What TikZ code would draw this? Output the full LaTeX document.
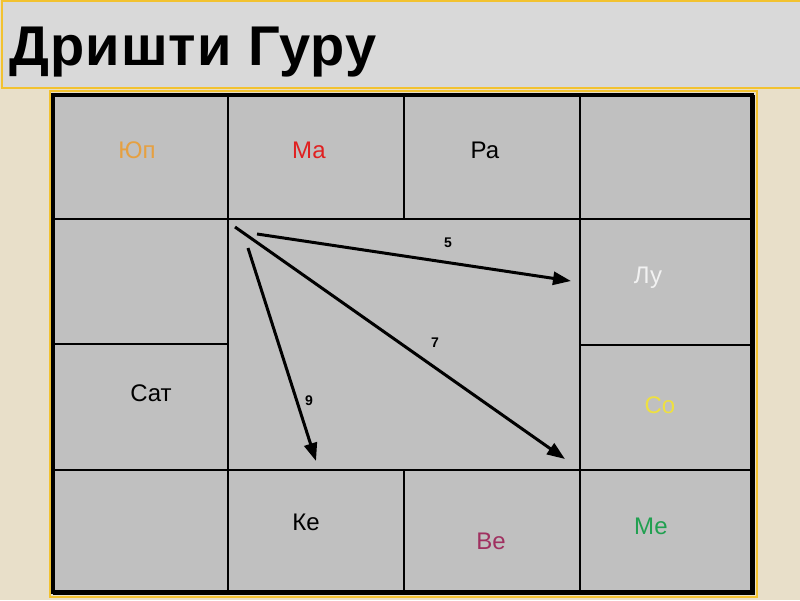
\documentclass[tikz,border=0pt]{standalone}
\usepackage{fontspec}
\setmainfont{Liberation Sans}
\newfontfamily\titlefont{Liberation Sans Bold}[LetterSpace=2]
\usetikzlibrary{arrows.meta}
\definecolor{pagebg}{RGB}{232,223,201}
\definecolor{barbg}{RGB}{217,217,217}
\definecolor{gold}{RGB}{242,194,48}
\definecolor{cellbg}{RGB}{192,192,192}
\definecolor{jupcol}{RGB}{230,160,64}
\definecolor{marscol}{RGB}{224,32,32}
\definecolor{mooncol}{RGB}{242,242,242}
\definecolor{suncol}{RGB}{238,224,64}
\definecolor{venuscol}{RGB}{160,48,96}
\definecolor{mercol}{RGB}{32,160,80}

\begin{document}
\begin{tikzpicture}[x=1pt,y=-1pt,
planet/.style={inner sep=0pt,font=\fontsize{24}{28}\selectfont},
aspect/.style={line width=3pt,-{Triangle[length=18pt,width=13pt]}},
num/.style={inner sep=0pt,font=\bfseries\fontsize{14}{16}\selectfont},
grid/.style={line width=2pt}]
\useasboundingbox (0,0) rectangle (800,600);
\fill[pagebg] (0,0) rectangle (800,600);
% title bar
\draw[gold,fill=barbg,line width=2pt] (2,1) rectangle (802,88);
\node[anchor=base west,inner sep=0pt,font=\titlefont\fontsize{56}{62}\selectfont] (title) at (9,65) {Дришти Гуру};
% chart
\draw[gold,line width=1.5pt] (50,91) rectangle (757,597);
\fill[cellbg] (53,95) rectangle (752,592);
\draw[grid] (228,95) -- (228,592);
\draw[grid] (580,95) -- (580,592);
\draw[grid] (404,95) -- (404,219);
\draw[grid] (404,470) -- (404,592);
\draw[grid] (53,219) -- (752,219);
\draw[grid] (53,470) -- (752,470);
\draw[grid] (53,344) -- (228,344);
\draw[grid] (580,345) -- (752,345);
\draw[line width=3.5pt] (53,95) rectangle (752,592);
\draw[line width=2.5pt] (753.5,95) -- (753.5,593.5) -- (53,593.5);
% planets
\node[planet,text=jupcol]   (jup) at (137,150) {Юп};
\node[planet,text=marscol]  (mars) at (309,150) {Ма};
\node[planet]               (rahu) at (485,150) {Ра};
\node[planet,text=mooncol]  (moon) at (648,278) {Лу};
\node[planet]               (sat) at (151,393) {Сат};
\node[planet,text=suncol]   (sun) at (660,405) {Со};
\node[planet]               (ketu) at (306,522) {Ке};
\node[planet,text=venuscol] (ven) at (491,541) {Ве};
\node[planet,text=mercol]   (mer) at (651,526) {Ме};
% aspects
\coordinate (s5) at (257,234);
\coordinate (e5) at (571,281);
\coordinate (s7) at (235,227);
\coordinate (e7) at (565,459);
\coordinate (s9) at (248,248);
\coordinate (e9) at (316,461);
\draw[aspect] (s5) -- (e5);
\draw[aspect] (s7) -- (e7);
\draw[aspect] (s9) -- (e9);
\node[num] (n5) at (448,243) {5};
\node[num] (n7) at (435,343) {7};
\node[num] (n9) at (309,401) {9};
\end{tikzpicture}
\end{document}
